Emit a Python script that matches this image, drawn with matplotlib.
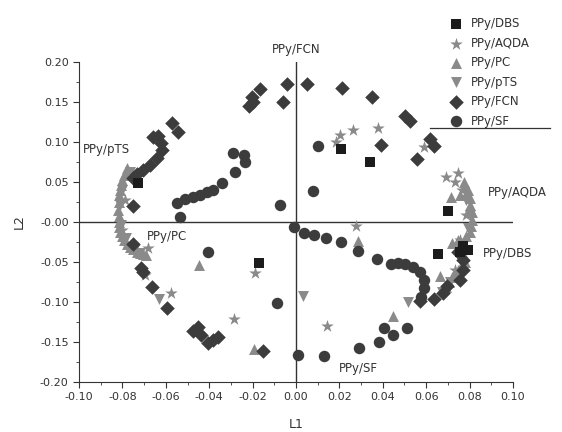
import numpy as np
import matplotlib
matplotlib.use("Agg")
import matplotlib.pyplot as plt

plt.rcParams.update({"font.family": "DejaVu Sans", "font.size": 8})

# ---------------------------------------------------------------- data (L1, L2)
dbs_x = [0.0207, 0.0341, 0.0700, -0.0728, -0.0171, 0.0654, 0.0770, 0.0793, 0.0756]
dbs_y = [0.091, 0.075, 0.014, 0.049, -0.051, -0.040, -0.030, -0.035, -0.0375]

aqda_x = [0.0184, 0.0203, 0.0263, 0.0378, 0.0590, 0.0691, 0.0747,
          -0.0682, -0.0696, -0.0576, -0.0189, -0.0286, 0.0276, 0.0143,
          0.0733, 0.0765, 0.0783, 0.0756, 0.0733, -0.0788, -0.0802]
aqda_y = [0.100, 0.109, 0.115, 0.1175, 0.094, 0.056, 0.061,
          -0.0325, -0.066, -0.089, -0.064, -0.121, -0.005, -0.130,
          0.050, 0.040, 0.009, -0.0225, -0.060, 0.0275, -0.010]

pc_x = [-0.0447, -0.0194, 0.0286, 0.0447, 0.0664,
        0.0714, 0.0774, 0.0793, 0.0756, 0.0802, 0.0811, 0.0802, 0.0747,
        0.0719, 0.0779, 0.0747, 0.0719, 0.0691,
        0.0778, 0.0800, 0.0810, 0.0808, 0.0785, 0.0775, 0.0760, 0.0735, 0.0705,
        -0.0779, -0.0793, -0.0806, -0.0816, -0.0820, -0.0816, -0.0811,
        -0.0793, -0.0765, -0.0733, -0.0705,
        -0.0775, -0.0800, -0.0812, -0.0818, -0.0818, -0.0814, -0.0803,
        -0.0780, -0.0750, -0.0718, -0.0690]
pc_y = [-0.054, -0.159, -0.024, -0.1175, -0.0675,
        0.031, 0.050, 0.040, 0.034, 0.021, 0.0025, -0.0125, -0.0225,
        -0.026, -0.050, -0.060, -0.069, -0.081,
        0.045, 0.030, 0.013, -0.005, -0.017, -0.043, -0.055, -0.064, -0.075,
        0.0675, 0.059, 0.046, 0.034, 0.015, 0.000, -0.0125,
        -0.0225, -0.031, -0.0375, -0.040,
        0.063, 0.052, 0.040, 0.025, 0.008, -0.006, -0.018,
        -0.027, -0.034, -0.039, -0.041]

pts_x = [-0.0631, 0.0032, 0.0516,
         -0.0765, -0.0802, -0.0811, -0.0806, -0.0783, -0.0747, -0.0719,
         0.0783, 0.0802, 0.0793, 0.0765, 0.0710, 0.0673]
pts_y = [-0.096, -0.0925, -0.100,
         0.0625, 0.040, 0.021, -0.004, -0.020, -0.035, -0.039,
         0.0275, 0.009, -0.0075, -0.050, -0.075, -0.0875]

fcn_x = [-0.0166, -0.0203, -0.0198, -0.0217, -0.0060, -0.0041, 0.0051,
         0.0212, 0.0350, 0.0502, 0.0525, 0.0618, 0.0636, 0.0392, 0.0558,
         -0.0571, -0.0544, -0.0659, -0.0636, -0.0622, -0.0618, -0.0641,
         -0.0673, -0.0705, -0.0733, -0.0751, -0.0751,
         -0.0751, -0.0714, -0.0705, -0.0664, -0.0594, -0.0475, -0.0452,
         -0.0438, -0.0406, -0.0382, -0.0359, -0.0152,
         0.0747, 0.0770, 0.0770, 0.0756, 0.0696, 0.0677, 0.0636, 0.0571]
fcn_y = [0.166, 0.156, 0.150, 0.145, 0.150, 0.1725, 0.1725,
         0.1675, 0.156, 0.1325, 0.126, 0.104, 0.095, 0.096, 0.079,
         0.124, 0.1125, 0.106, 0.1075, 0.099, 0.090, 0.080,
         0.071, 0.065, 0.060, 0.055, 0.020,
         -0.0275, -0.0575, -0.0625, -0.081, -0.1075, -0.136, -0.131,
         -0.141, -0.151, -0.1475, -0.144, -0.161,
         -0.0375, -0.0475, -0.060, -0.0725, -0.080, -0.089, -0.096, -0.099]

sf_x = [-0.0535, -0.0548, -0.0512, -0.0475, -0.0442, -0.0410, -0.0382,
        -0.0341, -0.0281, -0.0235, -0.0240, -0.0290, -0.0074, -0.0406, -0.0088,
        0.0101, 0.0078,
        -0.0009, 0.0037, 0.0083, 0.0138, 0.0207, 0.0286, 0.0373, 0.0438,
        0.0470, 0.0502, 0.0539, 0.0571, 0.0590, 0.0590, 0.0576,
        0.0406, 0.0447, 0.0512, 0.0382, 0.0290, 0.0129, 0.0009]
sf_y = [0.006, 0.024, 0.029, 0.031, 0.034, 0.0375, 0.040,
        0.049, 0.0625, 0.075, 0.084, 0.086, 0.021, -0.0375, -0.101,
        0.095, 0.039,
        -0.006, -0.014, -0.016, -0.020, -0.025, -0.036, -0.046, -0.0525,
        -0.051, -0.0525, -0.056, -0.0625, -0.0725, -0.0825, -0.094,
        -0.1325, -0.141, -0.1325, -0.150, -0.1575, -0.1675, -0.166]

labels = ["PPy/DBS", "PPy/AQDA", "PPy/PC", "PPy/pTS", "PPy/FCN", "PPy/SF"]

# ---------------------------------------------------------------- figure
fig = plt.figure(figsize=(5.62, 4.32), dpi=100)
ax = fig.add_axes([0.1406, 0.1157, 0.7722, 0.7408])

dark = "#3c3c3c"
grey = "#8a8a8a"
ax.scatter(pc_x, pc_y, marker="^", s=62, color=grey, lw=0, label=labels[2], zorder=3)
ax.scatter(pts_x, pts_y, marker="v", s=62, color=grey, lw=0, label=labels[3], zorder=3)
ax.scatter(aqda_x, aqda_y, marker="*", s=90, color=grey, lw=0, label=labels[1], zorder=3)
ax.scatter(fcn_x, fcn_y, marker="D", s=55, color=dark, lw=0, label=labels[4], zorder=4)
ax.scatter(sf_x, sf_y, marker="o", s=68, color=dark, lw=0, label=labels[5], zorder=4)
ax.scatter(dbs_x, dbs_y, marker="s", s=45, color="#1c1c1c", lw=0, label=labels[0], zorder=5)

# zero lines through the origin
ax.axhline(0, color="#333333", lw=1.0, zorder=1)
ax.axvline(0, color="#333333", lw=1.0, zorder=1)

ax.set_xlim(-0.10, 0.10)
ax.set_ylim(-0.20, 0.20)
ax.set_xticks(np.arange(-0.10, 0.101, 0.02))
ax.set_xticks(np.arange(-0.10, 0.101, 0.01), minor=True)
ax.set_yticks(np.arange(-0.20, 0.201, 0.05))
ax.set_yticks(np.arange(-0.20, 0.201, 0.025), minor=True)
ax.set_xticklabels([f"{v:.2f}" for v in np.arange(-0.10, 0.101, 0.02)])
ax.set_yticklabels([f"{v:.2f}" for v in np.arange(-0.20, 0.201, 0.05)])
for sp in ("top", "right"):
    ax.spines[sp].set_visible(False)
for sp in ("left", "bottom"):
    ax.spines[sp].set_color("#333333")
ax.tick_params(which="major", direction="out", length=4, color="#333333",
               labelcolor="#333333", labelsize=8)
ax.tick_params(which="minor", direction="out", length=2, color="#333333")

ax.set_xlabel("L1", fontsize=9, color="#333333", labelpad=11)
ax.set_ylabel("L2", fontsize=9, color="#333333", labelpad=10)

# group labels
kw = dict(fontsize=8.5, color="#333333", clip_on=False)
ax.text(0.0, 0.216, "PPy/FCN", ha="center", va="center", **kw)
ax.text(-0.098, 0.09, "PPy/pTS", ha="left", va="center", **kw)
ax.text(-0.0687, -0.0175, "PPy/PC", ha="left", va="center", **kw)
ax.text(0.0885, 0.0375, "PPy/AQDA", ha="left", va="center", **kw)
ax.text(0.0862, -0.039, "PPy/DBS", ha="left", va="center", **kw)
ax.text(0.0198, -0.1825, "PPy/SF", ha="left", va="center", **kw)

# legend, in the order of the original
h, l = ax.get_legend_handles_labels()
order = [l.index(s) for s in labels]
leg = ax.legend([h[i] for i in order], labels, loc="upper left",
                bbox_to_anchor=(0.83, 1.155), frameon=False, fontsize=8.5,
                handletextpad=0.3, labelspacing=0.55, borderaxespad=0)
for t in leg.get_texts():
    t.set_color("#333333")

# stray rule under the legend
ax.plot([0.0618, 0.117], [0.1175, 0.1175], color="#333333", lw=0.9, clip_on=False)

fig.savefig("out.png", dpi=100)
